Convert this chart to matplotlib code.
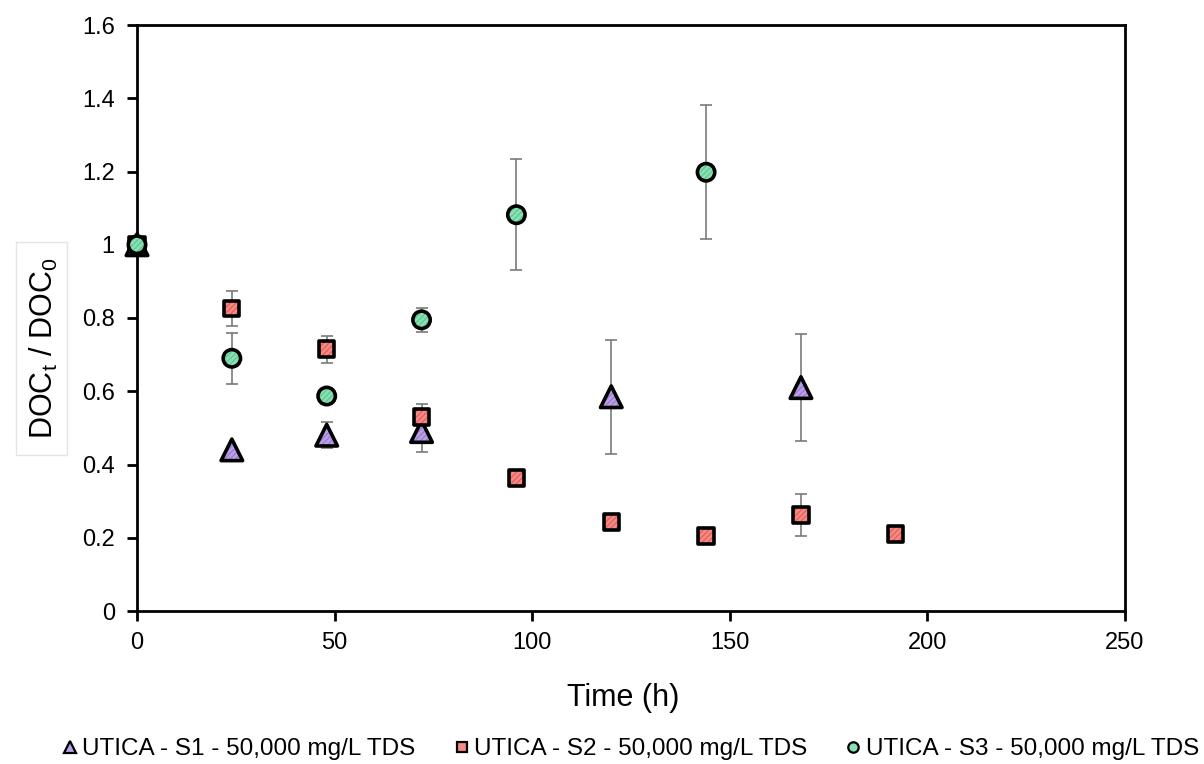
import matplotlib
matplotlib.use("Agg")
import matplotlib.pyplot as plt
from matplotlib.patches import Rectangle
from matplotlib.lines import Line2D

plt.rcParams['font.family'] = ['Liberation Sans', 'DejaVu Sans']
plt.rcParams['hatch.linewidth'] = 0.9

# Data
s1_t = [0, 24, 48, 72, 120, 168]
s1_y = [1.0, 0.44, 0.48, 0.49, 0.585, 0.61]
s1_e = [0.0, 0.0, 0.035, 0.055, 0.155, 0.145]

s2_t = [0, 24, 48, 72, 96, 120, 144, 168, 192]
s2_y = [1.0, 0.825, 0.715, 0.53, 0.363, 0.243, 0.205, 0.262, 0.21]
s2_e = [0.0, 0.048, 0.037, 0.035, 0.0, 0.0, 0.0, 0.058, 0.0]

s3_t = [0, 24, 48, 72, 96, 144]
s3_y = [1.0, 0.69, 0.587, 0.795, 1.082, 1.198]
s3_e = [0.0, 0.07, 0.0, 0.032, 0.152, 0.183]

labels = ["UTICA - S1 - 50,000 mg/L TDS",
          "UTICA - S2 - 50,000 mg/L TDS",
          "UTICA - S3 - 50,000 mg/L TDS"]
colors = ["#b9a0e6", "#f58a86", "#8ae0b2"]
hatchcolors = ["#9a7bd0", "#e25f5a", "#5cc891"]
markers = ["^", "s", "o"]
sizes = [15.5, 11, 12.5]

W, H = 1204, 764
fig = plt.figure(figsize=(W/100, H/100), dpi=100)
ax = fig.add_axes([137/W, 1 - 611/H, (1125-137)/W, (611-25)/H])

series = [(s1_t, s1_y, s1_e), (s2_t, s2_y, s2_e), (s3_t, s3_y, s3_e)]
handles = []
for (t, y, e), c, hc, m, ms, lab in zip(series, colors, hatchcolors, markers, sizes, labels):
    ax.errorbar(t, y, yerr=e, fmt='none', ecolor='#7a7a7a', elinewidth=1.2,
                capsize=4, capthick=1.2, zorder=2, clip_on=False)
    # hatched fill
    ax.scatter(t, y, marker=m, s=ms**2, facecolor=c, edgecolor=hc,
               linewidths=0, hatch='//////', zorder=3, clip_on=False)
    # black outline
    ax.scatter(t, y, marker=m, s=ms**2, facecolor='none', edgecolor='black',
               linewidths=2.6, zorder=3, clip_on=False)
    handles.append(Line2D([], [], linestyle='none', marker=m, markersize=ms*0.6,
                          markerfacecolor=c, markeredgecolor='black', markeredgewidth=1.6))

ax.set_xlim(0, 250)
ax.set_ylim(0, 1.6)
ax.set_xticks([0, 50, 100, 150, 200, 250])
ax.set_yticks([0, 0.2, 0.4, 0.6, 0.8, 1.0, 1.2, 1.4, 1.6])
ax.set_yticklabels(["0", "0.2", "0.4", "0.6", "0.8", "1", "1.2", "1.4", "1.6"])
ax.tick_params(axis='both', direction='out', length=7, width=2, labelsize=17)
ax.tick_params(axis='y', pad=9)
ax.tick_params(axis='x', pad=8)
for sp in ax.spines.values():
    sp.set_linewidth(2)

ax.set_xlabel("Time (h)", fontsize=22)
ax.xaxis.set_label_coords((623-137)/988, (611-683)/586)
ax.set_ylabel("DOC$_\\mathregular{t}$ / DOC$_\\mathregular{0}$", fontsize=22)
ax.yaxis.set_label_coords((60-137)/988, (611-348)/586)

# light box behind the y label
fig.patches.append(Rectangle((16/W, 1 - 455/H), 51/W, 213/H, transform=fig.transFigure,
                             facecolor='white', edgecolor='#e4e4e4', linewidth=1, zorder=-5))

leg = fig.legend(handles=handles, labels=labels, loc='center', ncol=3, frameon=False,
                 fontsize=17.5, bbox_to_anchor=(629/W, 1 - 749/H), handletextpad=0.05,
                 columnspacing=1.45, handlelength=0.9, borderpad=0)

fig.savefig("out.png", dpi=100)
